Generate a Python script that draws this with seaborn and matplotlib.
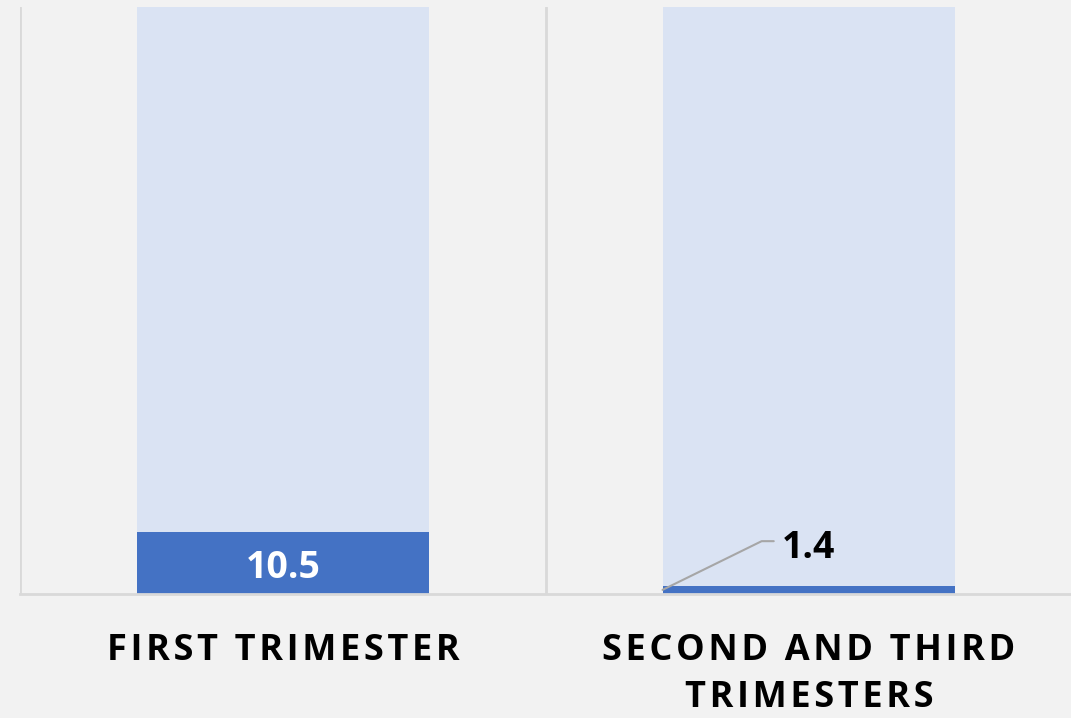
import matplotlib
matplotlib.use("Agg")
import matplotlib.pyplot as plt
import seaborn as sns
import pandas as pd

categories = ["FIRST TRIMESTER", "SECOND AND THIRD\nTRIMESTERS"]
values = [10.5, 1.4]
totals = [100, 100]

bg = "#F2F2F2"
dark = "#4472C4"
light = "#DAE3F3"
grid_col = "#D9D9D9"

sns.set_style("white")
plt.rcParams["font.family"] = ["Open Sans", "DejaVu Sans"]

df = pd.DataFrame({"cat": categories, "value": values, "total": totals})

fig = plt.figure(figsize=(10.71, 7.18), dpi=100, facecolor=bg)
ax = fig.add_axes([20 / 1071, 124 / 718, 1052 / 1071, 587 / 718])
ax.set_facecolor(bg)

w = 0.557
sns.barplot(data=df, x="cat", y="total", color=light, saturation=1, width=w,
            linewidth=0, ax=ax)
sns.barplot(data=df, x="cat", y="value", color=dark, saturation=1, width=w,
            linewidth=0, ax=ax)

ax.set_ylim(0, 100)
ax.set_xlim(-0.5, 1.5)
ax.set_yticks([])
ax.set_xlabel("")
ax.set_ylabel("")

# category separators like excel
ax.set_xticks([-0.5, 0.5, 1.5], minor=True)
ax.grid(True, which="minor", axis="x", color=grid_col, lw=2)
ax.set_axisbelow(True)
ax.tick_params(axis="x", which="both", length=0)

spaced = ["\u200a".join(list(c)).replace("\u200a\n\u200a", "\n") for c in categories]
ax.set_xticks([0, 1])
ax.set_xticklabels(spaced, fontsize=26, fontweight="bold", color="black",
                   linespacing=1.42)
ax.tick_params(axis="x", pad=28)

for s in ["left", "right", "top"]:
    ax.spines[s].set_visible(False)
ax.spines["bottom"].set_color(grid_col)
ax.spines["bottom"].set_linewidth(2)

# data labels
ax.text(0, values[0] / 2, f"{values[0]}", ha="center", va="center_baseline",
        color="white", fontsize=27, fontweight="bold")

lx, ly = 1.0, values[1] + 7.2
ax.text(lx, ly, f"{values[1]}", ha="center", va="center_baseline",
        color="black", fontsize=27, fontweight="bold")
ax.plot([1 - w / 2, lx - 0.09, lx - 0.067], [values[1] / 2, ly + 0.4, ly + 0.4],
        color="#A6A6A6", lw=1.5, clip_on=False)

fig.savefig("out.png", dpi=100, facecolor=bg)
